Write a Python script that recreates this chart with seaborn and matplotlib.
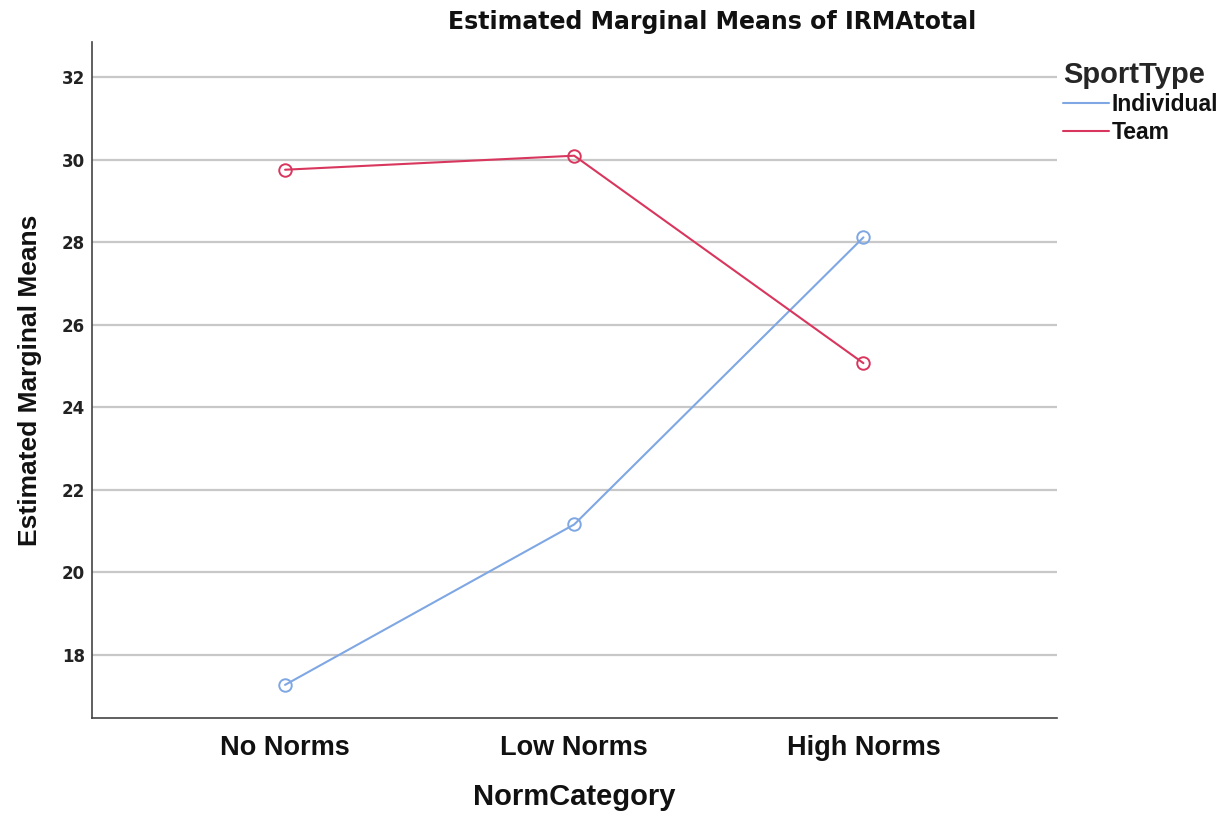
import pandas as pd
import seaborn as sns
import matplotlib.pyplot as plt
from matplotlib.lines import Line2D

# values
norm_cats = ['No Norms', 'Low Norms', 'High Norms']
individual = [17.27, 21.16, 28.12]
team = [29.76, 30.10, 25.07]
sport_types = ['Individual', 'Team']
y_ticks = [18, 20, 22, 24, 26, 28, 30, 32]

colors = {'Individual': '#7FA7E3', 'Team': '#D9365E'}

df = pd.DataFrame({
    'NormCategory': norm_cats * 2,
    'IRMAtotal': individual + team,
    'SportType': ['Individual'] * 3 + ['Team'] * 3,
})
df['x'] = df['NormCategory'].map({c: i for i, c in enumerate(norm_cats)})

sns.set_style('white')
plt.rcParams['font.family'] = ['Liberation Sans', 'DejaVu Sans']

fig = plt.figure(figsize=(12.25, 8.13), dpi=100)
ax = fig.add_axes([0.075, 0.117, 0.788, 0.831])

for st in sport_types:
    sub = df[df['SportType'] == st]
    sns.lineplot(data=sub, x='x', y='IRMAtotal', ax=ax, color=colors[st],
                 marker='o', markersize=9, markerfacecolor='none',
                 markeredgecolor=colors[st], markeredgewidth=1.4,
                 linewidth=1.5, legend=False, zorder=3)

ax.set_xlim(-0.668, 2.67)
ax.set_ylim(16.47, 32.85)
ax.set_xticks(range(len(norm_cats)))
ax.set_xticklabels(norm_cats, fontsize=19.5, fontweight='bold', color='#111111')
ax.set_yticks(y_ticks)
ax.set_yticklabels([str(t) for t in y_ticks], fontsize=12, fontweight='bold',
                   family='DejaVu Sans', color='#222222')
ax.tick_params(axis='x', length=0, pad=12)
ax.tick_params(axis='y', length=0, pad=5)
ax.yaxis.grid(True, color='#C8C8C8', linewidth=1.6, zorder=0)
ax.xaxis.grid(False)
ax.set_axisbelow(True)

for s in ['top', 'right']:
    ax.spines[s].set_visible(False)
for s in ['left', 'bottom']:
    ax.spines[s].set_color('#444444')
    ax.spines[s].set_linewidth(1.2)

ax.set_xlabel('NormCategory', fontsize=21, fontweight='bold', labelpad=16,
              color='#111111')
ax.set_ylabel('Estimated Marginal Means', fontsize=19, fontweight='bold',
              labelpad=14, color='#111111')
fig.text(0.581, 0.973, 'Estimated Marginal Means of IRMAtotal', ha='center',
         va='center', fontsize=17, fontweight='bold', family='DejaVu Sans',
         color='#111111')

handles = [Line2D([0], [0], color=colors[st], linewidth=1.5) for st in sport_types]
leg = fig.legend(handles, sport_types, title='SportType', loc='upper left',
                 bbox_to_anchor=(0.855, 0.945), frameon=False,
                 prop={'size': 16.5, 'weight': 'bold'}, handlelength=2.0,
                 handletextpad=0.1, labelspacing=0.2, borderpad=0.2)
leg.get_title().set_fontsize(21)
leg.get_title().set_fontweight('bold')
leg._legend_box.align = 'left'
for t in leg.get_texts():
    t.set_color('#111111')

fig.savefig('out.png', dpi=100)
